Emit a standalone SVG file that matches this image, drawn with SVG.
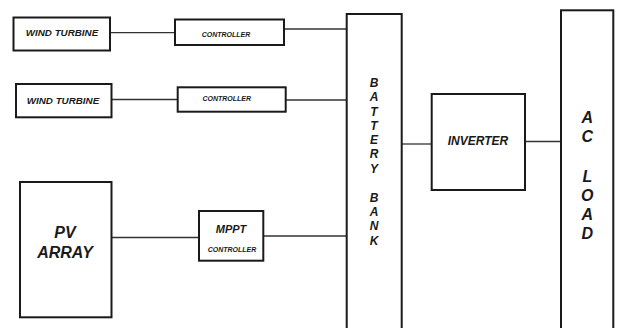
<svg xmlns="http://www.w3.org/2000/svg" width="629" height="328" viewBox="0 0 629 328">
<style>
.box{fill:#fff;stroke:#1a1a1a;stroke-width:2}
.wire{stroke:#333;stroke-width:1.3;fill:none}
text{font-family:"Liberation Sans",Arial,sans-serif;font-weight:bold;font-style:italic;fill:#1a1a1a;text-anchor:middle}
.s7{font-size:7px}
.s10{font-size:9.8px}
.s12{font-size:12px}
.s16{font-size:16px}
.s11{font-size:11px}
</style>
<rect width="629" height="328" fill="#fff"/>
<g id="connectors">
<line class="wire" x1="110" y1="32.7" x2="175" y2="32.7"/>
<line class="wire" x1="284" y1="29" x2="347" y2="29"/>
<line class="wire" x1="111.5" y1="99.5" x2="178" y2="99.5"/>
<line class="wire" x1="285.5" y1="100" x2="347" y2="100"/>
<line class="wire" x1="111.5" y1="237.5" x2="199" y2="237.5"/>
<line class="wire" x1="263" y1="236" x2="347" y2="236"/>
<line class="wire" x1="401.5" y1="144" x2="432" y2="144"/>
<line class="wire" x1="525" y1="141.5" x2="561" y2="141.5"/>
</g>
<g id="wind1">
<rect class="box" x="13.5" y="17.5" width="96.5" height="33"/>
<text class="s10" x="62" y="36">WIND TURBINE</text>
</g>
<g id="ctrl1">
<rect class="box" x="175" y="19.5" width="109" height="25.5"/>
<text class="s7" x="226" y="37">CONTROLLER</text>
</g>
<g id="wind2">
<rect class="box" x="16" y="84" width="95.5" height="33.3"/>
<text class="s10" x="63" y="104">WIND TURBINE</text>
</g>
<g id="ctrl2">
<rect class="box" x="177.7" y="87.3" width="108" height="24.4"/>
<text class="s7" x="226.7" y="101">CONTROLLER</text>
</g>
<g id="pv">
<rect class="box" x="20" y="182" width="91.5" height="135.3"/>
<text class="s16" x="65" y="237.5">PV</text>
<text class="s16" x="65" y="257.5">ARRAY</text>
</g>
<g id="mppt">
<rect class="box" x="199" y="211" width="64.3" height="49.7"/>
<text class="s11" x="231" y="233">MPPT</text>
<text class="s7" x="232" y="252">CONTROLLER</text>
</g>
<g id="battery">
<rect class="box" x="346.7" y="14" width="55" height="320"/>
<text class="s12" x="374"><tspan x="374" y="86.5">B</tspan><tspan x="374" y="101">A</tspan><tspan x="374" y="115.5">T</tspan><tspan x="374" y="129.5">T</tspan><tspan x="374" y="144">E</tspan><tspan x="374" y="158">R</tspan><tspan x="374" y="172.5">Y</tspan><tspan x="374" y="201.5">B</tspan><tspan x="374" y="216">A</tspan><tspan x="374" y="230">N</tspan><tspan x="374" y="244.5">K</tspan></text>
</g>
<g id="inverter">
<rect class="box" x="431.7" y="94" width="93.3" height="96"/>
<text class="s12" x="478" y="145">INVERTER</text>
</g>
<g id="acload">
<rect class="box" x="561" y="10.3" width="52.3" height="325"/>
<text class="s16" x="587.3"><tspan x="587.3" y="122.5">A</tspan><tspan x="587.3" y="142">C</tspan><tspan x="587.3" y="182">L</tspan><tspan x="587.3" y="201">O</tspan><tspan x="587.3" y="220">A</tspan><tspan x="587.3" y="239">D</tspan></text>
</g>
</svg>
